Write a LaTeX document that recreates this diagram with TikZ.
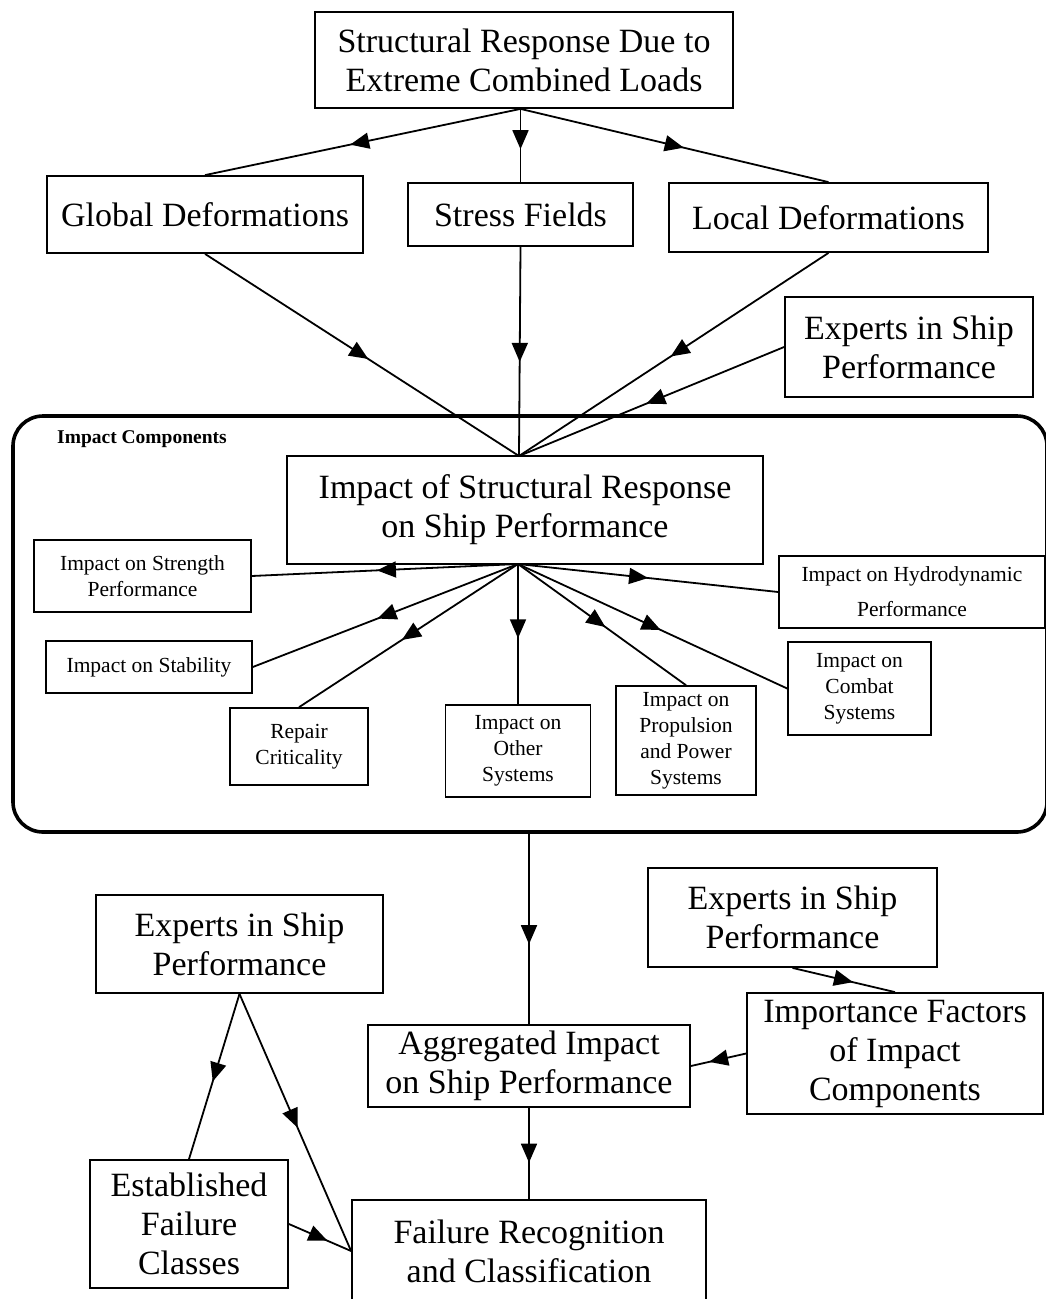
\documentclass[tikz,border=0pt]{standalone}
\usepackage{fontspec}
\setmainfont{Liberation Serif}
\usetikzlibrary{arrows.meta,decorations.markings,calc}
\tikzset{
  box/.style={draw, line width=1.8pt, inner sep=0pt, align=center, font=\fontsize{34}{39}\selectfont},
  sbox/.style={draw, line width=1.6pt, inner sep=0pt, align=center, font=\fontsize{21.5}{26}\selectfont},
  conn/.style={line width=1.8pt},
  midarr/.style={postaction={decorate}, decoration={markings, mark=at position #1 with {\arrow{Triangle[length=19pt,width=16pt]}}}},
}
\begin{document}
\begin{tikzpicture}[x=1pt,y=-1pt]
\useasboundingbox (0,0) rectangle (1046,1299);
% container
\node[draw, line width=3.6pt, rounded corners=30pt, minimum width=1034pt, minimum height=416pt, inner sep=0pt] (cont) at (530,624) {};
\node[anchor=west, inner sep=0pt, font=\bfseries\fontsize{19.5}{22}\selectfont] (lab) at (57,439) {Impact Components};
% top level
\node[box, minimum width=418pt, minimum height=96pt] (top) at (524,60) {Structural Response Due to\\Extreme Combined Loads};
\node[box, minimum width=316pt, minimum height=77pt] (glob) at (205,214.5) {Global Deformations};
\node[box, minimum width=225pt, minimum height=63pt] (stress) at (520.5,214.5) {Stress Fields};
\node[box, minimum width=319pt, minimum height=69pt] (local) at (828.5,217.5) {Local Deformations};
\node[box, minimum width=248pt, minimum height=100pt] (expA) at (909,347) {Experts in Ship\\Performance};
\coordinate (topo) at (top.south -| stress.north);
% impact components
\node[box, minimum width=476pt, minimum height=108pt] (impact) at (525,510) {Impact of Structural Response\\on Ship Performance};
\coordinate (conv) at (519,456);
\coordinate (hub) at (518,564);
\node[sbox, minimum width=217pt, minimum height=72pt] (strength) at (142.5,576) {Impact on Strength\\Performance};
\node[sbox, minimum width=206pt, minimum height=52pt] (stab) at (149,667) {Impact on Stability};
\node[sbox, minimum width=138pt, minimum height=77pt] (repair) at (299,746.5) {Repair\\Criticality};
\node[sbox, minimum width=145pt, minimum height=92pt] (other) at (518,751) {Impact on\\Other\\Systems};
\node[sbox, minimum width=140pt, minimum height=109pt] (prop) at (686,740.5) {Impact on\\Propulsion\\and Power\\Systems};
\node[sbox, minimum width=143pt, minimum height=93pt] (combat) at (859.5,688.5) {Impact on\\Combat\\Systems};
\node[sbox, minimum width=266pt, minimum height=72pt] (hydro) at (912,592) {Impact on Hydrodynamic\\[9pt]Performance};
% bottom
\node[box, minimum width=289pt, minimum height=99pt] (expB) at (792.5,917.5) {Experts in Ship\\Performance};
\node[box, minimum width=296pt, minimum height=121pt] (import) at (895,1053.5) {Importance Factors\\of Impact\\Components};
\node[box, minimum width=322pt, minimum height=82pt] (agg) at (529,1066) {Aggregated Impact\\on Ship Performance};
\node[box, minimum width=354pt, minimum height=102pt] (fail) at (529,1251) {Failure Recognition\\and Classification};
\node[box, minimum width=287pt, minimum height=98pt] (expC) at (239.5,944) {Experts in Ship\\Performance};
\node[box, minimum width=198pt, minimum height=128pt] (est) at (189,1224) {Established\\Failure\\Classes};
\coordinate (contb) at (cont.south -| agg.north);
% connectors top
\draw[conn, midarr=0.54] (topo) -- (glob.north);
\draw[conn, midarr=0.55] (topo) -- (stress.north);
\draw[conn, midarr=0.53] (topo) -- (local.north);
\draw[conn, midarr=0.52] (glob.south) -- (conv);
\draw[conn, midarr=0.55] (stress.south) -- (conv);
\draw[conn, midarr=0.51] (local.south) -- (conv);
\draw[conn, midarr=0.52] (expA.west) -- (conv);
% hub connectors
\draw[conn, midarr=0.53] (hub) -- (strength.east);
\draw[conn, midarr=0.53] (hub) -- (stab.east);
\draw[conn, midarr=0.53] (hub) -- (repair.north);
\draw[conn, midarr=0.53] (hub) -- (other.north);
\draw[conn, midarr=0.52] (hub) -- (prop.north);
\draw[conn, midarr=0.53] (hub) -- (combat.west);
\draw[conn, midarr=0.50] (hub) -- (hydro.west);
% bottom connectors
\draw[conn, midarr=0.58] (contb) -- (agg.north);
\draw[conn, midarr=0.60] (agg.south) -- (fail.north);
\draw[conn, midarr=0.59] (expB.south) -- (import.north);
\draw[conn, midarr=0.67] (import.west) -- (agg.east);
\draw[conn, midarr=0.53] (expC.south) -- (est.north);
\draw[conn, midarr=0.52] (expC.south) -- (fail.west);
\draw[conn, midarr=0.62] (est.east) -- (fail.west);
\end{tikzpicture}
\end{document}
